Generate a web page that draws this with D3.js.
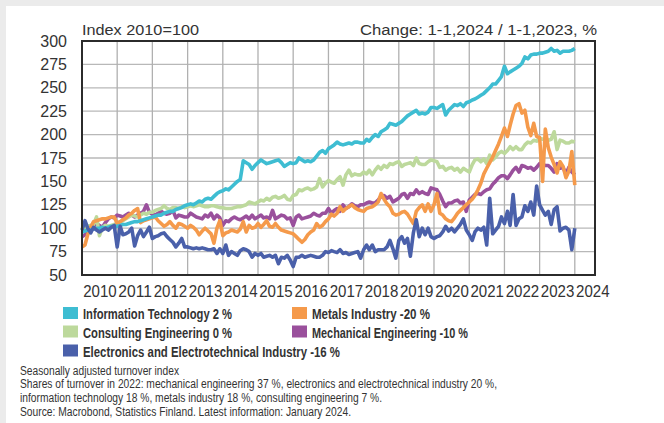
<!DOCTYPE html>
<html>
<head>
<meta charset="utf-8">
<title>Turnover index, technology industry</title>
<script src="https://cdn.jsdelivr.net/npm/d3@7/dist/d3.min.js"></script>
<style>
	body { margin: 0; background: #ebebeb; }
	svg { display: block; }
	text { font-family: "Liberation Sans", Arial, sans-serif; fill: #333; }
</style>
</head>
<body>
<div id="chart"></div>
<script>
// DATA (monthly, Jan 2010 - Jan 2024, index 2010=100)
var firstMonth = new Date(2010, 0, 1);
var yearLabels = [2010, 2011, 2012, 2013, 2014, 2015, 2016, 2017, 2018, 2019, 2020, 2021, 2022, 2023, 2024];
var yTicks = [50, 75, 100, 125, 150, 175, 200, 225, 250, 275, 300];

var infoTech = [
	96, 97, 98, 98, 99, 100, 100, 101, 100, 101, 102, 102,
	102, 103, 104, 104, 105, 106, 107, 107, 108, 109, 110, 111,
	112, 113, 114, 114, 116, 117, 118, 118, 120, 121, 122, 124,
	125, 126, 125, 127, 129, 128, 131, 132, 131, 134, 137, 139,
	140, 142, 141, 144, 147, 150, 152, 172, 170, 168, 163, 167,
	170, 173, 171, 169, 170, 171, 172, 173, 170, 166, 168, 170,
	169, 170, 175, 173, 171, 172, 171, 173, 177, 181, 183, 180,
	185, 187, 189, 192, 190, 189, 190, 191, 190, 192, 192, 191,
	191, 195, 193, 197, 200, 198, 203, 205, 207, 212, 211, 210,
	212, 214, 217, 220, 222, 224, 226, 222, 223, 222, 224, 229,
	229, 228, 230, 232, 221, 226, 229, 232, 231, 233, 230, 234,
	235, 237, 238, 240, 242, 244, 247, 250, 254, 254, 258, 262,
	273, 265, 267, 269, 271, 273, 276, 283, 281, 285, 286, 286,
	287, 287, 288, 289, 292, 289, 290, 287, 289, 289, 289, 290,
	292
];

var consulting = [
	98, 100, 102, 103, 104, 112, 92, 101, 103, 102, 103, 104,
	105, 107, 108, 110, 112, 114, 113, 112, 114, 116, 115, 117,
	117, 119, 120, 121, 124, 121, 120, 122, 122, 121, 123, 122,
	123, 124, 123, 124, 125, 124, 123, 123, 124, 124, 123, 122,
	122, 121, 121, 121, 122, 123, 123, 124, 125, 128, 127, 126,
	128, 130, 129, 132, 130, 133, 134, 132, 133, 135, 131, 130,
	135, 136, 141, 140, 142, 143, 141, 142, 144, 153, 144, 148,
	151, 149, 148, 152, 155, 146, 157, 162, 156, 158, 157, 157,
	160, 158, 162, 157, 162, 166, 163, 167, 165, 169, 168, 170,
	171, 166, 168, 169, 170, 167, 175, 169, 168, 168, 171, 173,
	172, 171, 165, 166, 162, 164, 165, 162, 164, 160, 164, 162,
	160, 168, 173, 174, 171, 174, 169, 178, 173, 176, 180, 182,
	180, 183, 187, 184, 187, 184, 184, 189, 192, 191, 194, 193,
	196, 195, 196, 194, 195, 203, 184, 194, 193, 191, 191, 193,
	192
];

var metals = [
	80, 82, 93, 101, 107, 108, 109, 110, 110, 111, 112, 112,
	105, 107, 109, 111, 114, 116, 119, 121, 106, 108, 109, 110,
	111, 112, 108, 105, 102, 104, 107, 103, 100, 105, 104, 102,
	100, 103, 101, 98, 93, 97, 100, 97, 94, 84, 100, 108,
	92, 95, 96, 98, 97, 96, 99, 107, 96, 103, 100, 101,
	105, 101, 104, 108, 102, 101, 105, 101, 98, 97, 96, 95,
	94, 91, 88, 85, 88, 93, 96, 98, 105, 101, 103, 107,
	110, 115, 113, 116, 123, 118, 121, 123, 125, 122, 120, 119,
	118, 121, 122, 123, 125, 128, 137, 131, 126, 123, 116, 114,
	115, 117, 118, 115, 110, 105, 118, 122, 125, 118, 126, 118,
	125, 137, 116, 114, 110, 108, 107, 111, 116, 119, 122, 125,
	128, 131, 135, 141, 148, 158, 164, 170, 176, 183, 190, 198,
	207, 198, 210, 222, 231, 233, 223, 226, 208, 199, 212, 198,
	197, 150, 206, 186, 176, 168, 159, 171, 166, 154, 161, 182,
	146
];

var mechanical = [
	91, 93, 96, 99, 102, 105, 103, 101, 106, 110, 112, 111,
	114, 113, 112, 114, 116, 114, 112, 114, 116, 118, 125, 117,
	115, 114, 116, 118, 116, 115, 116, 119, 111, 114, 113, 112,
	112, 116, 114, 112, 111, 110, 114, 112, 116, 110, 114, 111,
	103, 108, 107, 110, 112, 110, 109, 111, 113, 110, 114, 110,
	112, 114, 111, 112, 110, 119, 110, 112, 114, 113, 110, 111,
	103, 112, 114, 110, 111, 112, 113, 116, 114, 113, 116, 116,
	121, 116, 119, 121, 118, 125, 121, 123, 126, 124, 123, 125,
	125, 127, 128, 127, 127, 130, 134, 135, 132, 134, 128, 130,
	132, 136, 137, 132, 137, 136, 141, 137, 139, 137, 136, 143,
	142, 141, 136, 129, 123, 127, 127, 129, 130, 127, 128, 118,
	130, 133, 136, 137, 136, 139, 141, 142, 147, 150, 154, 156,
	156, 153, 157, 162, 165, 160, 167, 166, 164, 165, 162, 165,
	169, 168, 167, 167, 164, 160, 169, 164, 165, 158, 165, 160,
	157
];

var electronics = [
	98, 108, 100, 95, 101, 98, 96, 98, 100, 98, 101, 103,
	80, 102, 93, 94, 96, 100, 81, 92, 98, 91, 96, 101,
	89, 91, 92, 94, 95, 91, 88, 85, 80, 84, 89, 80,
	80, 79, 78, 79, 78, 79, 78, 77, 77, 78, 73, 78,
	73, 82, 71, 75, 73, 71, 76, 78, 77, 75, 69, 73,
	71, 73, 69, 70, 71, 69, 71, 62, 69, 68, 71, 66,
	59, 69, 69, 71, 69, 70, 71, 70, 69, 69, 71, 75,
	74, 76, 75, 74, 77, 73, 74, 72, 73, 74, 75, 68,
	77, 82, 77, 82, 75, 77, 77, 77, 80, 87, 78, 68,
	87, 91, 84, 89, 70, 95, 109, 91, 100, 93, 100, 91,
	89, 91, 92, 96, 102, 97, 100, 96, 100, 104, 110, 98,
	93, 87, 96, 100, 98, 101, 82, 132, 94, 98, 102, 112,
	105, 118, 103, 136, 103, 110, 112, 124, 118, 128, 114, 145,
	125, 119, 114, 118, 104, 120, 123, 97, 100, 101, 98, 77,
	100
];

// legend layout follows the original (two columns)
var legendItems = [
	{ label: "Information Technology 2 %", color: "#3ebdd2", values: infoTech, col: 0, row: 0, w: 149 },
	{ label: "Metals Industry -20 %", color: "#f59a4b", values: metals, col: 1, row: 0, w: 118 },
	{ label: "Consulting Engineering 0 %", color: "#bdd99c", values: consulting, col: 0, row: 1, w: 149 },
	{ label: "Mechanical Engineering -10 %", color: "#9a509c", values: mechanical, col: 1, row: 1, w: 156 },
	{ label: "Electronics and Electrotechnical Industry -16 %", color: "#4a60aa", values: electronics, col: 0, row: 2, w: 257 }
];

var notes = [
	{ text: "Seasonally adjusted turnover index", w: 159 },
	{ text: "Shares of turnover in 2022: mechanical engineering 37 %, electronics and electrotechnical industry 20 %,", w: 477 },
	{ text: "information technology 18 %, metals industry 18 %, consulting engineering 7 %.", w: 362 },
	{ text: "Source: Macrobond, Statistics Finland. Latest information: January 2024.", w: 331 }
];

// draw order: bottom -> top
var drawOrder = [3, 2, 1, 0, 4];


/* ===========================
*	SVG SETUP
*===========================*/
var W = 664, H = 423;
var plot = { left: 82, right: 595, top: 41, bottom: 275 };

var svg = d3.select("#chart").append("svg").attr("width", W).attr("height", H);

// white card on grey page
svg.append("rect").attr("x", 6).attr("y", 6).attr("width", W - 6).attr("height", H - 6).attr("fill", "#fff");

var x = d3.scaleTime()
	.domain([new Date(2010, 0, 1), new Date(2024, 0, 1)])
	.range([plot.left, 574.8]);

var y = d3.scaleLinear()
	.domain([50, 300])
	.range([plot.bottom, plot.top]);

function monthDate(i) {
	return d3.timeMonth.offset(firstMonth, i);
}


/* grid
============================*/
var grid = svg.append("g").attr("class", "grid");

grid.selectAll("line.h")
	.data(yTicks.slice(1, -1))
	.enter().append("line")
	.attr("x1", plot.left).attr("x2", plot.right)
	.attr("y1", function(d) { return y(d); })
	.attr("y2", function(d) { return y(d); })
	.attr("stroke", "#b8b8b8").attr("stroke-width", 1.3);

grid.selectAll("line.v")
	.data(yearLabels.slice(1))
	.enter().append("line")
	.attr("y1", plot.top).attr("y2", plot.bottom)
	.attr("x1", function(d) { return x(new Date(d, 0, 1)); })
	.attr("x2", function(d) { return x(new Date(d, 0, 1)); })
	.attr("stroke", "#b0b0b0").attr("stroke-width", 1.3);


/* axes
============================*/
var yAxis = d3.axisLeft(y).tickValues(yTicks).tickSize(0).tickPadding(15);
svg.append("g")
	.attr("transform", "translate(" + plot.left + ",0)")
	.call(yAxis)
	.call(function(g) { g.select(".domain").remove(); })
	.selectAll("text")
	.style("font-size", "16px")
	.style("font-family", "'Liberation Sans', Arial, sans-serif")
	.attr("fill", "#333");

var xAxis = d3.axisBottom(x)
	.tickValues(yearLabels.map(function(d) { return new Date(d, 6, 1); }))
	.tickFormat(d3.timeFormat("%Y"))
	.tickSize(0).tickPadding(10);
svg.append("g")
	.attr("transform", "translate(0," + plot.bottom + ")")
	.call(xAxis)
	.call(function(g) { g.select(".domain").remove(); })
	.selectAll("text")
	.style("font-size", "16.5px")
	.style("font-family", "'Liberation Sans', Arial, sans-serif")
	.attr("fill", "#333")
	.attr("textLength", 33.5)
	.attr("lengthAdjust", "spacingAndGlyphs");


/* series lines
============================*/
var line = d3.line()
	.x(function(d, i) { return x(monthDate(i)); })
	.y(function(d) { return y(d); });

svg.append("g").attr("class", "series")
	.selectAll("path")
	.data(drawOrder.map(function(k) { return legendItems[k]; }))
	.enter().append("path")
	.attr("d", function(d) { return line(d.values); })
	.attr("fill", "none")
	.attr("stroke", function(d) { return d.color; })
	.attr("stroke-width", 3.6)
	.attr("stroke-linejoin", "round");

// frame on top
svg.append("rect")
	.attr("x", plot.left).attr("y", plot.top)
	.attr("width", plot.right - plot.left).attr("height", plot.bottom - plot.top)
	.attr("fill", "none").attr("stroke", "#2b2b2b").attr("stroke-width", 2);


/* headings
============================*/
svg.append("text")
	.attr("x", 82).attr("y", 35)
	.style("font-size", "15.5px")
	.attr("textLength", 117).attr("lengthAdjust", "spacingAndGlyphs")
	.text("Index 2010=100");

svg.append("text")
	.attr("x", 597).attr("y", 35)
	.attr("text-anchor", "end")
	.style("font-size", "15.5px")
	.attr("textLength", 237).attr("lengthAdjust", "spacingAndGlyphs")
	.text("Change: 1-1,2024 / 1-1,2023, %");


/* legend
============================*/
var colX = [63, 292], rowY = [307, 325.5, 344.5];

var legend = svg.append("g").attr("class", "legend")
	.selectAll("g")
	.data(legendItems)
	.enter().append("g")
	.attr("transform", function(d) { return "translate(" + colX[d.col] + "," + rowY[d.row] + ")"; });

legend.append("rect")
	.attr("width", 15).attr("height", 12)
	.attr("fill", function(d) { return d.color; });

legend.append("text")
	.attr("x", 20).attr("y", 12)
	.style("font-size", "14.5px").style("font-weight", "bold")
	.attr("fill", "#2b2b2b")
	.attr("textLength", function(d) { return d.w; })
	.attr("lengthAdjust", "spacingAndGlyphs")
	.text(function(d) { return d.label; });


/* notes
============================*/
svg.append("g").attr("class", "notes")
	.selectAll("text")
	.data(notes)
	.enter().append("text")
	.attr("x", 20)
	.attr("y", function(d, i) { return 374.5 + i * 13.75; })
	.style("font-size", "12.5px")
	.attr("textLength", function(d) { return d.w; })
	.attr("lengthAdjust", "spacingAndGlyphs")
	.text(function(d) { return d.text; });
</script>
</body>
</html>
